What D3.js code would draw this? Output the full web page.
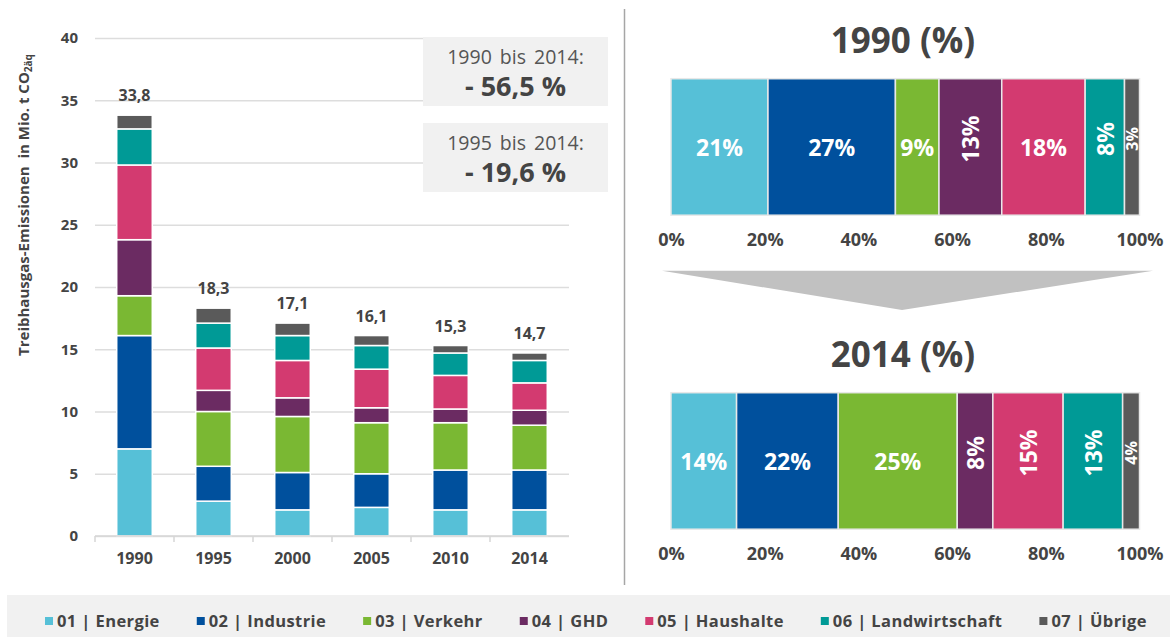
<!DOCTYPE html>
<html>
<head>
<meta charset="utf-8">
<script src="https://cdn.jsdelivr.net/npm/d3@7"></script>
<style>
  body { margin: 0; background: #fff; }
  svg { display: block; font-family: "Open Sans", sans-serif; }
</style>
</head>
<body>
<div id="chart"></div>
<script>
// data
const years = ["1990", "1995", "2000", "2005", "2010", "2014"];
const sectors = ["01 | Energie", "02 | Industrie", "03 | Verkehr", "04 | GHD",
  "05 | Haushalte", "06 | Landwirtschaft", "07 | Übrige"];
const energie        = [7.0, 2.8, 2.1, 2.3, 2.1, 2.1];
const industrie      = [9.1, 2.8, 3.0, 2.7, 3.2, 3.2];
const verkehr        = [3.2, 4.4, 4.5, 4.1, 3.8, 3.6];
const ghd            = [4.5, 1.7, 1.5, 1.2, 1.1, 1.2];
const haushalte      = [6.0, 3.4, 3.0, 3.1, 2.7, 2.2];
const landwirtschaft = [2.9, 2.0, 2.0, 1.9, 1.8, 1.8];
const uebrige        = [1.1, 1.2, 1.0, 0.8, 0.6, 0.6];
const totals = [33.8, 18.3, 17.1, 16.1, 15.3, 14.7];
const yTicks = [0, 5, 10, 15, 20, 25, 30, 35, 40];

const share1990 = [20.7, 27.2, 9.3, 13.4, 17.8, 8.4, 3.2];
const share2014 = [14.0, 21.7, 25.4, 7.6, 15.0, 12.7, 3.6];
const pctTicks = [0, 20, 40, 60, 80, 100];

const changeLabels = ["1990 bis 2014:", "1995 bis 2014:"];
const changeValues = ["- 56,5 %", "- 19,6 %"];

// styles
const colors = ["#56c0d7", "#00509d", "#7ab833", "#6b2b62", "#d33a70", "#009a96", "#5a5a5a"];
const rot1990 = [false, false, false, true, false, true, true];
const rot2014 = [false, false, false, true, true, true, true];
const textCol = "#444";

const W = 1173, H = 637;
const svg = d3.select("#chart").append("svg").attr("width", W).attr("height", H);

const de = d3.formatLocale({ decimal: ",", thousands: ".", grouping: [3], currency: ["", " €"] });
const fmt1 = de.format(".1f");

// ---------- left: stacked columns ----------
const series = [energie, industrie, verkehr, ghd, haushalte, landwirtschaft, uebrige];
const rows = years.map((y, i) => {
  const r = { year: y };
  sectors.forEach((s, k) => r[s] = series[k][i]);
  return r;
});
const stacked = d3.stack().keys(sectors)(rows);

const x = d3.scaleBand().domain(years).range([95, 569]).paddingInner(0.55).paddingOuter(0.275);
const y = d3.scaleLinear().domain([0, 40]).range([536, 38]);

// gridlines
svg.append("g")
  .attr("transform", "translate(95,0)")
  .call(d3.axisLeft(y).tickValues(yTicks).tickSize(-474).tickFormat(""))
  .call(g => g.select(".domain").remove())
  .call(g => g.selectAll("line").attr("stroke", "#dddddd").attr("stroke-width", 1.6));

// y tick labels
svg.append("g")
  .attr("transform", "translate(78,0)")
  .call(d3.axisLeft(y).tickValues(yTicks).tickSize(0).tickPadding(0))
  .call(g => g.select(".domain").remove())
  .call(g => g.selectAll("text")
    .attr("fill", textCol).attr("font-size", 15).attr("font-weight", 700)
    .attr("font-family", "Open Sans"));

// annotation boxes (over gridlines)
const boxes = svg.append("g").selectAll("g").data(changeLabels).join("g")
  .attr("transform", (d, i) => `translate(423,${37 + i * 86})`);
boxes.append("rect").attr("width", 185).attr("height", 69).attr("fill", "#f1f1f1");
boxes.append("text").attr("x", 92.5).attr("y", 26.5).attr("text-anchor", "middle")
  .attr("font-size", 19.5).attr("fill", "#555").attr("word-spacing", 3)
  .text(d => d);
boxes.append("text").attr("x", 92.5).attr("y", 59).attr("text-anchor", "middle")
  .attr("font-size", 27).attr("font-weight", 700).attr("fill", textCol)
  .text((d, i) => changeValues[i]);

// bars
svg.append("g").selectAll("g").data(stacked).join("g")
  .attr("fill", (d, i) => colors[i])
  .selectAll("rect").data(d => d).join("rect")
  .attr("x", d => x(d.data.year))
  .attr("width", x.bandwidth())
  .attr("y", d => y(d[1]))
  .attr("height", d => y(d[0]) - y(d[1]))
  .attr("stroke", "#fff").attr("stroke-width", 1.5);

// totals
svg.append("g").selectAll("text").data(years).join("text")
  .attr("x", d => x(d) + x.bandwidth() / 2)
  .attr("y", (d, i) => y(totals[i]) - 14)
  .attr("text-anchor", "middle")
  .attr("font-size", 16).attr("font-weight", 700).attr("fill", textCol)
  .text((d, i) => fmt1(totals[i]));

// x axis
const xAxis = svg.append("g").attr("transform", "translate(0,536)");
xAxis.append("line").attr("x1", 95).attr("x2", 569).attr("stroke", "#d6d6d6").attr("stroke-width", 1.6);
xAxis.selectAll("line.tick").data(d3.range(0, years.length))
  .join("line").attr("class", "tick")
  .attr("x1", i => x(years[i]) - x.step() * x.paddingInner() / 2)
  .attr("x2", i => x(years[i]) - x.step() * x.paddingInner() / 2)
  .attr("y1", 0).attr("y2", 6)
  .attr("stroke", "#d6d6d6").attr("stroke-width", 1.5);
xAxis.selectAll("text").data(years).join("text")
  .attr("x", d => x(d) + x.bandwidth() / 2)
  .attr("y", 27.5)
  .attr("text-anchor", "middle")
  .attr("font-size", 16).attr("font-weight", 700).attr("fill", textCol)
  .text(d => d);

// y title
svg.append("text")
  .attr("transform", "translate(29,205) rotate(-90)")
  .attr("text-anchor", "middle")
  .attr("font-size", 15).attr("font-weight", 700).attr("fill", textCol)
  .attr("xml:space", "preserve")
  .call(t => {
    t.append("tspan").text("Treibhausgas-Emissionen  in Mio. t CO");
    t.append("tspan").attr("font-size", 10).attr("dy", 3).text("2äq");
  });

// divider
svg.append("line").attr("x1", 624.5).attr("x2", 624.5).attr("y1", 9).attr("y2", 585)
  .attr("stroke", "#a6a6a6").attr("stroke-width", 1.5);

// ---------- right: 100% bars ----------
const xp = d3.scaleLinear().domain([0, 100]).range([671, 1139.5]);

function shareBar(shares, rot, top, title, titleY) {
  const g = svg.append("g");
  const segs = d3.stack().keys(sectors)([Object.fromEntries(sectors.map((s, k) => [s, shares[k]]))]);
  const h = 136.5;
  g.selectAll("rect").data(segs).join("rect")
    .attr("x", d => xp(d[0][0]))
    .attr("width", d => xp(d[0][1]) - xp(d[0][0]))
    .attr("y", top).attr("height", h)
    .attr("fill", (d, i) => colors[i])
    .attr("stroke", "#e8e8e8").attr("stroke-width", 1.5);
  g.selectAll("text.lab").data(segs).join("text").attr("class", "lab")
    .attr("transform", (d, i) => {
      const cx = (xp(d[0][0]) + xp(d[0][1])) / 2;
      const cy = top + h / 2 + (rot[i] ? -8 : 0);
      return `translate(${cx},${cy})` + (rot[i] ? " rotate(-90)" : "");
    })
    .attr("text-anchor", "middle").attr("dominant-baseline", "central")
    .attr("font-size", (d, i) => shares[i] < 5 ? 16 : 23)
    .attr("font-weight", 700).attr("fill", "#fff")
    .text((d, i) => Math.round(shares[i]) + "%");

  g.append("g").attr("transform", `translate(0,${top + h + 31})`)
    .call(d3.axisBottom(xp).tickValues(pctTicks).tickSize(0).tickPadding(0).tickFormat(d => d + "%"))
    .call(a => a.select(".domain").remove())
    .call(a => a.selectAll("text").attr("font-size", 18).attr("font-weight", 700)
      .attr("fill", textCol).attr("font-family", "Open Sans").attr("dy", 0));

  svg.append("text").attr("x", 903).attr("y", titleY).attr("text-anchor", "middle")
    .attr("font-size", 35).attr("font-weight", 700).attr("fill", "#444").text(title);
}

shareBar(share1990, rot1990, 78.7, "1990 (%)", 53);
shareBar(share2014, rot2014, 392.7, "2014 (%)", 367);

// arrow
svg.append("path")
  .attr("d", `M662,270.7 L1153,270.7 L902,310 Z`)
  .attr("fill", "#c1c1c1");

// ---------- legend ----------
svg.append("rect").attr("x", 7).attr("y", 595).attr("width", 1163).attr("height", 42).attr("fill", "#f1f1f1");
const leg = svg.append("g");
let lx = 45;
sectors.forEach((s, i) => {
  const item = leg.append("g").attr("transform", `translate(${lx},0)`);
  item.append("rect").attr("x", 0).attr("y", 617).attr("width", 8).attr("height", 8).attr("fill", colors[i]);
  const t = item.append("text").attr("x", 12).attr("y", 627)
    .attr("font-size", 16.5).attr("font-weight", 700).attr("fill", textCol)
    .attr("letter-spacing", 0.4)
    .text(s);
  lx += 12 + t.node().getComputedTextLength() + 37;
});
</script>
</body>
</html>
